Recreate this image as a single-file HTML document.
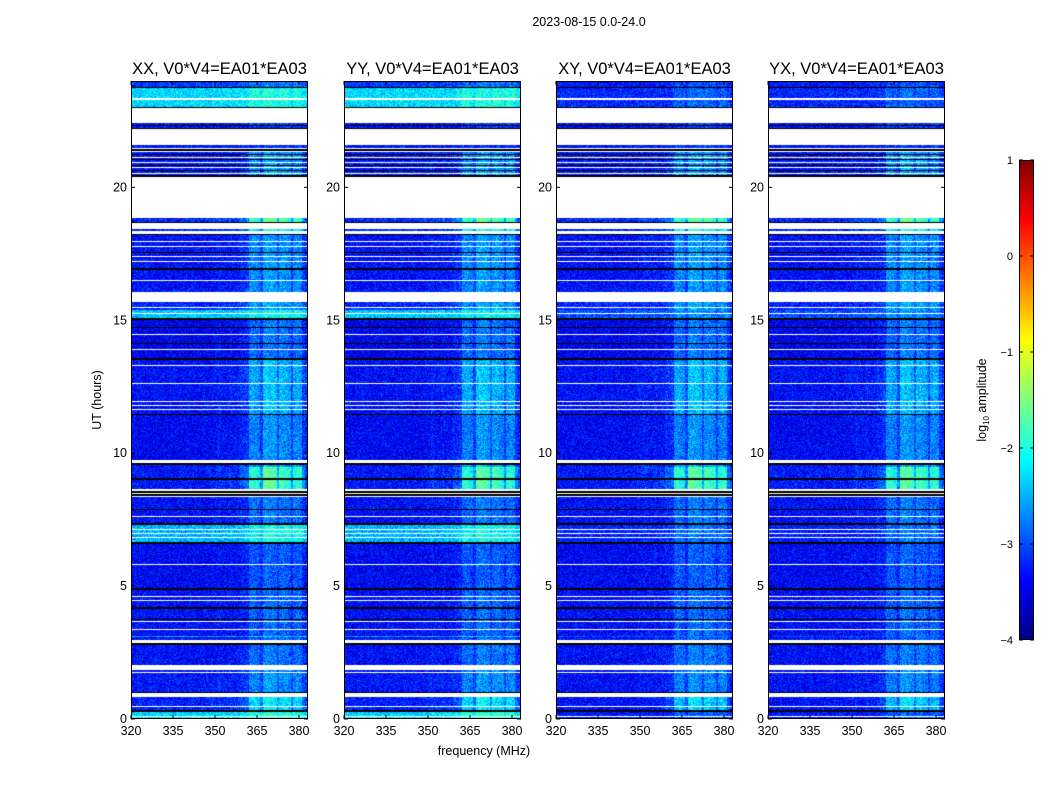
<!DOCTYPE html>
<html><head><meta charset="utf-8">
<style>
html,body{margin:0;padding:0;background:#fff;}
#wrap{position:relative;width:1050px;height:800px;font-family:"Liberation Sans",sans-serif;}
canvas{position:absolute;}
svg{position:absolute;left:0;top:0;}
</style></head>
<body>
<div id="wrap">
<svg id="ov" width="1050" height="800"></svg>
</div>
<script>
// ---- data ----
const panelTitles = ["XX, V0*V4=EA01*EA03","YY, V0*V4=EA01*EA03","XY, V0*V4=EA01*EA03","YX, V0*V4=EA01*EA03"];
const panelIsCross = [false,false,true,true];
const xTicks = [320,335,350,365,380];
const yTicks = [0,5,10,15,20];
const cbTicks = [1,0,-1,-2,-3,-4];
// time segments: [startHour, endHour, kind ('d' data,'w' flagged,'k' black), baseParallel, baseCross, rfiActivity]
const segments = [
 [23.77,24.0,'d',-3.1,-3.3,0.4],[23.74,23.77,'k'],[23.02,23.74,'d',-2.3,-3.2,0.4],[23.30,23.35,'w'],
 [22.98,23.02,'k'],[22.42,22.98,'w'],[22.23,22.42,'d',-3.3,-3.3,0.3],[22.30,22.33,'k'],[22.20,22.23,'k'],
 [21.59,22.20,'w'],[21.48,21.59,'d',-3.3,-3.3,0.2],[21.37,21.45,'k'],[20.46,21.33,'d',-3.3,-3.3,0.9],
 [21.22,21.25,'k'],[21.12,21.15,'w'],[21.02,21.05,'k'],[20.92,20.95,'w'],[20.82,20.85,'k'],[20.72,20.75,'w'],[20.62,20.65,'k'],[20.52,20.55,'w'],
 [20.39,20.46,'k'],[18.85,20.39,'w'],[18.70,18.85,'d',-3.2,-3.2,1.9],[18.66,18.70,'k'],[18.43,18.66,'w'],
 [18.36,18.43,'d',-3.2,-3.2,1.5],[18.25,18.36,'w'],[18.20,18.25,'k'],[16.97,18.20,'d',-3.35,-3.35,0.9],
 [17.95,17.98,'w'],[17.75,17.78,'w'],[17.55,17.58,'k'],[17.40,17.43,'w'],[17.20,17.23,'w'],
 [16.89,16.97,'k'],[16.21,16.89,'d',-3.35,-3.35,0.9],[16.50,16.53,'w'],[16.06,16.21,'d',-3.3,-3.3,0.8],
 [15.69,16.06,'w'],[15.39,15.69,'d',-3.2,-3.2,0.8],[15.45,15.48,'w'],[15.08,15.39,'d',-2.4,-3.0,0.4],[15.25,15.28,'w'],
 [15.0,15.08,'k'],[13.58,15.0,'d',-3.45,-3.45,0.8],[14.70,14.75,'k'],[14.45,14.48,'w'],[14.10,14.14,'k'],[13.90,13.93,'w'],
 [13.50,13.58,'k'],[11.44,13.50,'d',-3.35,-3.35,1.1],[13.30,13.33,'w'],[12.60,12.63,'w'],[11.95,11.98,'w'],
 [11.77,11.80,'w'],[11.63,11.66,'w'],[11.44,11.48,'k'],[9.74,11.44,'d',-3.4,-3.4,0.9],
 [9.67,9.74,'w'],[9.55,9.63,'k'],[9.48,9.55,'d',-3.3,-3.3,1.0],[9.07,9.48,'d',-3.3,-3.3,1.9],[8.99,9.07,'k'],
 [8.65,8.99,'d',-3.3,-3.3,1.9],[8.58,8.65,'w'],[8.52,8.58,'k'],[8.45,8.52,'w'],[8.40,8.45,'k'],[8.35,8.40,'w'],
 [7.37,8.35,'d',-3.35,-3.35,0.7],[7.86,7.90,'k'],[7.60,7.63,'w'],[7.30,7.37,'k'],
 [6.62,7.30,'d',-2.5,-3.25,0.6],[7.10,7.13,'w'],[6.95,6.98,'w'],[6.80,6.83,'w'],[6.60,6.64,'k'],
 [4.93,6.60,'d',-3.4,-3.4,0.6],[5.80,5.83,'w'],[4.86,4.93,'k'],[4.18,4.86,'d',-3.35,-3.35,0.6],
 [4.60,4.63,'w'],[4.45,4.48,'w'],[4.15,4.20,'k'],[2.97,4.15,'d',-3.35,-3.35,0.6],[3.72,3.76,'k'],
 [3.65,3.68,'w'],[3.35,3.38,'w'],[3.10,3.13,'d',-2.6,-3.0,0.3],[2.86,2.97,'w'],[2.78,2.86,'k'],
 [2.03,2.78,'d',-3.35,-3.35,0.7],[1.84,2.03,'w'],[1.02,1.84,'d',-3.3,-3.35,0.8],[1.72,1.75,'w'],
 [0.98,1.02,'k'],[0.83,0.98,'w'],[0.34,0.83,'d',-3.25,-3.35,1.3],[0.45,0.48,'w'],[0.26,0.34,'k'],
 [0,0.26,'d',-2.3,-3.3,0.5],[0.10,0.13,'w']
];
// per-MHz RFI boost, bins starting at 320 MHz
const chanBoost = [0,0,0,0,0,0,0,0,0,0, 0,0,0,0,0,0,0,0,0,0, 0,0,0,0,0,0,0,0,0,0.05,
 0.05,0.12,0.05,0.05,0.05,0.12,0.05,0.08,0.08,0.2, 0.2,0.25,0.7,0.75,0.7,0.65,0.35,0.85,0.9,0.85,
 0.85,0.8,0.45,0.8,0.8,0.75,0.7,0.35,0.7,0.75,0.7,0.3,0.15,0.1];
const chanStart = 320;

// ---- geometry ----
const PX = [131,344,556,768], PW = 177, PT = 81, PB = 719;
const MHzPx = 2.8;
const xs = (px0,f)=>px0+(f-320)*MHzPx;
const ys = h=>PB-(h/24)*(PB-PT);
const VMIN=-4, VMAX=1;
function jet(v){
  let t=(v-VMIN)/(VMAX-VMIN); t=Math.max(0,Math.min(1,t));
  const c=x=>Math.max(0,Math.min(1,x));
  const r=c(1.5-Math.abs(4*t-3)), g=c(1.5-Math.abs(4*t-2)), b=c(1.5-Math.abs(4*t-1));
  return [r*255|0,g*255|0,b*255|0];
}
function hash(a,b){let h=(a*374761393+b*668265263)|0;h=(h^(h>>>13))*1274126177|0;return ((h^(h>>>16))>>>0)/4294967296;}

const wrap=document.getElementById('wrap');
const NS='http://www.w3.org/2000/svg';
const ov=document.getElementById('ov');
function txt(x,y,s,size,anchor,extra){
  const t=document.createElementNS(NS,'text');
  t.setAttribute('x',x);t.setAttribute('y',y);t.setAttribute('font-size',size);
  t.setAttribute('text-anchor',anchor||'middle');t.setAttribute('fill','#000');
  t.setAttribute('font-family','Liberation Sans, sans-serif');
  if(extra)t.setAttribute('transform',extra);
  t.textContent=s;ov.appendChild(t);return t;
}
function line(x1,y1,x2,y2,w){
  const l=document.createElementNS(NS,'line');
  l.setAttribute('x1',x1);l.setAttribute('y1',y1);l.setAttribute('x2',x2);l.setAttribute('y2',y2);
  l.setAttribute('stroke','#000');l.setAttribute('stroke-width',w||1);ov.appendChild(l);return l;
}

PX.forEach((x0,p)=>{
  const cv=document.createElement('canvas');
  cv.width=PW;cv.height=PB-PT;cv.style.left=x0+'px';cv.style.top=PT+'px';
  
  
  wrap.insertBefore(cv,ov);
  const ctx=cv.getContext('2d');
  const img=ctx.createImageData(PW,PB-PT);
  const rowInfo=new Array(PB-PT).fill(null);
  segments.forEach(s=>{
    const yA=Math.round(ys(s[1])-PT), yB=Math.max(Math.round(ys(s[0])-PT),yA+1);
    for(let y=yA;y<yB&&y<PB-PT;y++) if(y>=0) rowInfo[y]=s;
  });
  for(let y=0;y<PB-PT;y++){
    const s=rowInfo[y];
    for(let x=0;x<PW;x++){
      const i=(y*PW+x)*4;let col;
      if(!s||s[2]==='w'){col=[255,255,255];}
      else if(s[2]==='k'){col=[0,0,0];}
      else{
        const f=320+(x+0.5)/MHzPx;
        const bi=Math.min(chanBoost.length-1,Math.floor(f-chanStart));
        const base=panelIsCross[p]?s[4]:s[3];
        const v=base+chanBoost[bi]*s[5]+(hash(x+p*1000,y)-0.5)*0.8;
        col=jet(v);
      }
      img.data[i]=col[0];img.data[i+1]=col[1];img.data[i+2]=col[2];img.data[i+3]=255;
    }
  }
  ctx.putImageData(img,0,0);

  const fr=document.createElementNS(NS,'rect');
  fr.setAttribute('x',x0+0.5);fr.setAttribute('y',PT+0.5);fr.setAttribute('width',PW-1);fr.setAttribute('height',PB-PT-1);
  fr.setAttribute('fill','none');fr.setAttribute('stroke','#000');
  
  ov.appendChild(fr);
  const tt=txt(x0+PW/2,74,panelTitles[p],16.5);
  
  xTicks.forEach(f=>{
    const x=xs(x0,f);
    line(x,PB,x,PB-4);line(x,PT,x,PT+4);
    const l=txt(x,735,String(f),12.5);
    
  });
  yTicks.forEach(h=>{
    const y=ys(h);
    line(x0,y,x0+4,y);line(x0+PW,y,x0+PW-4,y);
    const l=txt(x0-4,y+4,String(h),12.5,'end');
    
  });
});

const t1=txt(589,26,'2023-08-15 0.0-24.0',12.5);

const t2=txt(484,755,'frequency (MHz)',12.5);

const t3=txt(101,400,'UT (hours)',12.5,'middle','rotate(-90 101 400)');


// colorbar
const CBX=1019,CBW=15,CBT=160,CBB=640;
const cb=document.createElement('canvas');
cb.width=CBW;cb.height=CBB-CBT;cb.style.left=CBX+'px';cb.style.top=CBT+'px';

wrap.insertBefore(cb,ov);
const cctx=cb.getContext('2d');
for(let y=0;y<CBB-CBT;y++){const v=VMAX-(y+0.5)/(CBB-CBT)*(VMAX-VMIN);const c=jet(v);cctx.fillStyle=`rgb(${c[0]},${c[1]},${c[2]})`;cctx.fillRect(0,y,CBW,1);}
const cbf=document.createElementNS(NS,'rect');
cbf.setAttribute('x',CBX+0.5);cbf.setAttribute('y',CBT+0.5);cbf.setAttribute('width',CBW-1);cbf.setAttribute('height',CBB-CBT-1);
cbf.setAttribute('fill','none');cbf.setAttribute('stroke','#000');

ov.appendChild(cbf);
cbTicks.forEach(v=>{
  const y=CBT+(VMAX-v)/(VMAX-VMIN)*(CBB-CBT);
  line(CBX,y,CBX+4,y);line(CBX+CBW,y,CBX+CBW-4,y);
  const l=txt(1013,y+4,v<0?'\u2212'+(-v):String(v),11,'end');
  
});
const cl=document.createElementNS(NS,'text');
cl.setAttribute('transform','rotate(-90 986 400)');cl.setAttribute('x',986);cl.setAttribute('y',400);
cl.setAttribute('font-size',12.5);cl.setAttribute('text-anchor','middle');cl.setAttribute('font-family','Liberation Sans, sans-serif');

cl.innerHTML='log<tspan font-size="8" dy="3">10</tspan><tspan dy="-3"> amplitude</tspan>';
ov.appendChild(cl);
</script>
</body></html>
